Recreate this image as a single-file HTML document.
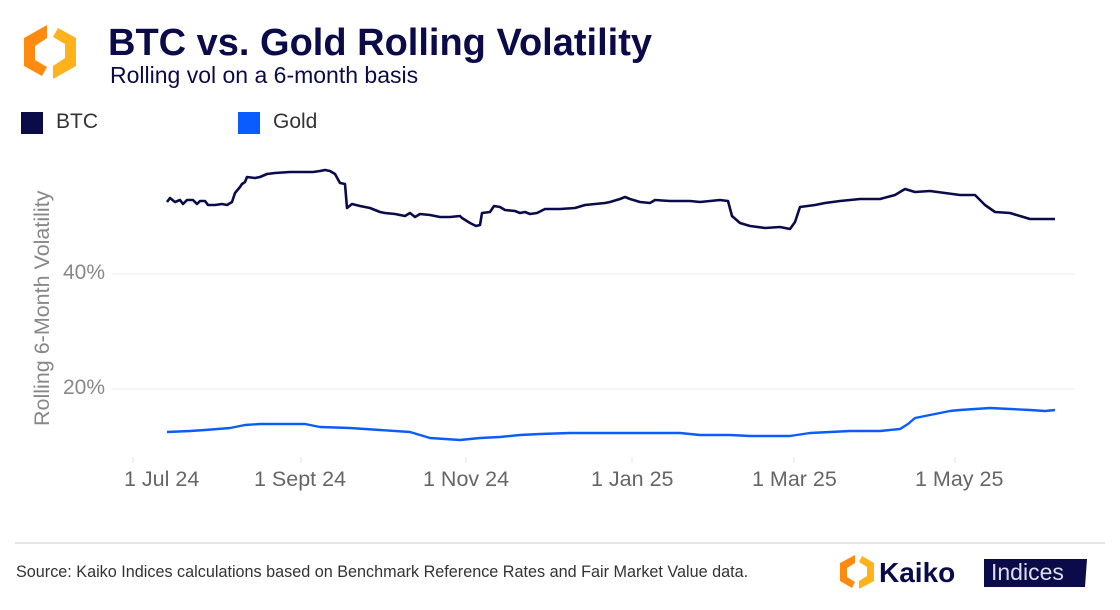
<!DOCTYPE html>
<html><head><meta charset="utf-8"><style>
body{margin:0;width:1120px;height:610px;background:#fff;font-family:"Liberation Sans",Arial,sans-serif;overflow:hidden;position:relative}
.t{position:absolute;white-space:nowrap}
</style></head><body>
<svg width="1120" height="610" style="position:absolute;left:0;top:0">
<g transform="translate(50,52)">
<path d="M-3,-27 L-26,-14 L-26,14 L-8,24 L-3,15 L-15,8 L-15,-6 L-3,-14 Z" fill="#ff8a10"/>
<path d="M3,27 L26,14 L26,-14 L8,-24 L3,-15 L15,-8 L15,6 L3,14 Z" fill="#ffb21a"/>
</g>
<rect x="21" y="112" width="22" height="22" fill="#0b0b4a"/>
<rect x="238" y="112" width="22" height="22" fill="#0a5cff"/>
<line x1="112" y1="274" x2="1075" y2="274" stroke="#ececec"/>
<line x1="112" y1="389" x2="1075" y2="389" stroke="#ececec"/>
<g stroke="#e4e4e4"><line x1="133" y1="457" x2="133" y2="463"/><line x1="301" y1="457" x2="301" y2="463"/><line x1="466" y1="457" x2="466" y2="463"/><line x1="632" y1="457" x2="632" y2="463"/><line x1="794" y1="457" x2="794" y2="463"/><line x1="955" y1="457" x2="955" y2="463"/></g>
<polyline fill="none" stroke="#0b0b4a" stroke-width="2.6" stroke-linejoin="round" points="167,202 170,198 175,202 180,200 183,204 187,200 193,200 197,204 200,201 205,201 208,205 215,205 222,204 227,205 232,202 235,193 240,187 242,184 245,182 247,177 255,178 260,177 267,174 275,173 290,172 300,172 313,172 320,171 325,170 330,171 335,174 340,183 345,184 347,208 352,204 360,206 370,208 380,212 385,213 395,214 405,216 410,213 415,217 420,214 430,215 440,217 450,217 460,216 462,218 470,223 476,226 480,225 482,213 490,212 494,206 500,207 505,210 515,211 520,213 525,212 530,214 537,213 545,209 560,209 575,208 585,205 595,204 605,203 610,202 620,199 625,197 630,199 640,202 650,203 655,200 670,201 690,201 700,202 720,200 728,201 732,216 740,223 750,226 765,228 780,227 790,229 795,222 800,207 815,205 825,203 840,201 860,199 880,199 895,195 905,189 915,192 930,191 945,193 960,195 975,195 985,205 995,212 1010,213 1020,216 1030,219 1055,219"/>
<polyline fill="none" stroke="#0a5cff" stroke-width="2.4" stroke-linejoin="round" points="167,432 190,431 205,430 230,428 245,425 260,424 290,424 305,424 320,427 350,428 380,430 410,432 420,435 430,438 445,439 460,440 480,438 500,437 520,435 540,434 570,433 600,433 640,433 680,433 700,435 730,435 750,436 790,436 810,433 830,432 850,431 880,431 900,429 908,424 915,418 930,415 940,413 950,411 960,410 975,409 990,408 1010,409 1030,410 1045,411 1055,410"/>
<line x1="15" y1="543" x2="1105" y2="543" stroke="#ccc"/>
<g transform="translate(857,572)">
<path d="M-2,-17 L-17,-9 L-17,9 L-5,16 L-2,10 L-10,5 L-10,-4 L-2,-9 Z" fill="#ff8a10"/>
<path d="M2,17 L17,9 L17,-9 L5,-16 L2,-10 L10,-5 L10,4 L2,9 Z" fill="#ffb21a"/>
</g>
<path d="M984,559 L1087,559 L1085,587 L984,587 Z" fill="#0b0b4a"/>
</svg>
<div class="t" style="left:108px;top:22px;font-size:38px;font-weight:bold;color:#0b0b4a">BTC vs. Gold Rolling Volatility</div>
<div class="t" style="left:110px;top:62px;font-size:23px;color:#0b0b4a">Rolling vol on a 6-month basis</div>
<div class="t" style="left:56px;top:110px;font-size:21px;color:#333">BTC</div>
<div class="t" style="left:273px;top:110px;font-size:21px;color:#333">Gold</div>
<div class="t" style="left:63px;top:261px;font-size:21px;color:#888">40%</div>
<div class="t" style="left:63px;top:376px;font-size:21px;color:#888">20%</div>
<div class="t" style="left:30px;top:426px;font-size:21.5px;color:#888;transform:rotate(-90deg);transform-origin:0 0;">Rolling 6-Month Volatility</div>
<div class="t" style="left:124px;top:467px;font-size:21.5px;color:#666">1 Jul 24</div>
<div class="t" style="left:254px;top:467px;font-size:21.5px;color:#666">1 Sept 24</div>
<div class="t" style="left:423px;top:467px;font-size:21.5px;color:#666">1 Nov 24</div>
<div class="t" style="left:591px;top:467px;font-size:21.5px;color:#666">1 Jan 25</div>
<div class="t" style="left:752px;top:467px;font-size:21.5px;color:#666">1 Mar 25</div>
<div class="t" style="left:915px;top:467px;font-size:21.5px;color:#666">1 May 25</div>
<div class="t" style="left:16px;top:563px;font-size:16.2px;color:#333">Source: Kaiko Indices calculations based on Benchmark Reference Rates and Fair Market Value data.</div>
<div class="t" style="left:879px;top:557px;font-size:28px;font-weight:bold;color:#0b0b4a">Kaiko</div>
<div class="t" style="left:991px;top:559px;font-size:23px;color:#dde;">Indices</div>
</body></html>
